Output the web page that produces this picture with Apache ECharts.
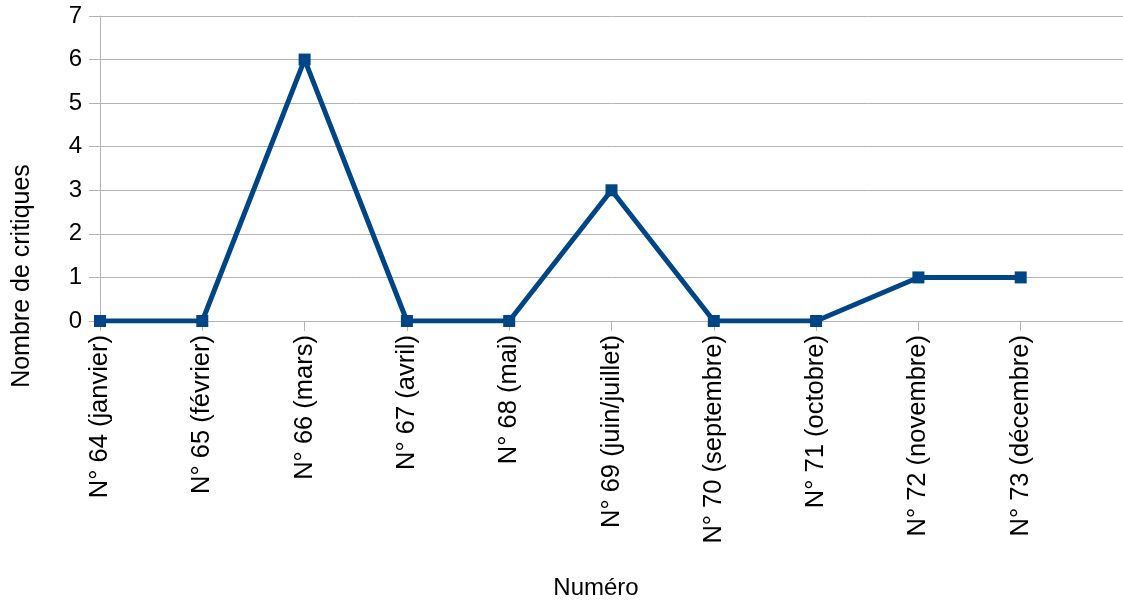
<!DOCTYPE html>
<html>
<head>
<meta charset="utf-8">
<script src="https://cdn.jsdelivr.net/npm/echarts@6/dist/echarts.min.js"></script>
<style>html,body{margin:0;padding:0;background:#fff}#c{width:1123px;height:601px}</style>
</head>
<body>
<div id="c"></div>
<script>
var categories = ['N° 64 (janvier)', 'N° 65 (février)', 'N° 66 (mars)', 'N° 67 (avril)', 'N° 68 (mai)', 'N° 69 (juin/juillet)', 'N° 70 (septembre)', 'N° 71 (octobre)', 'N° 72 (novembre)', 'N° 73 (décembre)', ''];
var values = [0, 0, 6, 0, 0, 3, 0, 0, 1, 1, null];
var yTicks = [0, 1, 2, 3, 4, 5, 6, 7];
var xTitle = 'Numéro';
var yTitle = 'Nombre de critiques';

var font = 'Liberation Sans, Arial, sans-serif';
var chart = echarts.init(document.getElementById('c'), null, {renderer: 'canvas'});
chart.setOption({
  animation: false,
  grid: {left: 100, top: 16, right: -2.5, height: 305, containLabel: false},
  xAxis: {
    type: 'category',
    data: categories,
    boundaryGap: false,
    axisLine: {show: true, lineStyle: {color: '#b3b3b3', width: 1}},
    axisTick: {show: true, length: 10, alignWithLabel: true, lineStyle: {color: '#b3b3b3'}},
    axisLabel: {rotate: 90, margin: 14, fontSize: 25.5, color: '#000', fontFamily: font, interval: 0},
    splitLine: {show: false}
  },
  yAxis: {
    type: 'value',
    min: yTicks[0],
    max: yTicks[yTicks.length - 1],
    interval: 1,
    axisLine: {show: true, lineStyle: {color: '#b3b3b3', width: 1}},
    axisTick: {show: true, length: 11, lineStyle: {color: '#b3b3b3'}},
    axisLabel: {margin: 18, fontSize: 24, color: '#000', fontFamily: font},
    splitLine: {show: true, lineStyle: {color: '#b3b3b3', width: 1}}
  },
  graphic: [
    {type: 'text', x: 596, y: 588, style: {text: xTitle, font: '24px ' + font, fill: '#000', align: 'center', verticalAlign: 'middle'}},
    {type: 'text', x: 22, y: 276, rotation: Math.PI / 2, style: {text: yTitle, font: '25px ' + font, fill: '#000', align: 'center', verticalAlign: 'middle'}}
  ],
  series: [{
    type: 'line',
    data: values,
    symbol: 'rect',
    symbolSize: 12,
    lineStyle: {color: '#004586', width: 5},
    itemStyle: {color: '#004586'},
    connectNulls: false
  }]
});
</script>
</body>
</html>
